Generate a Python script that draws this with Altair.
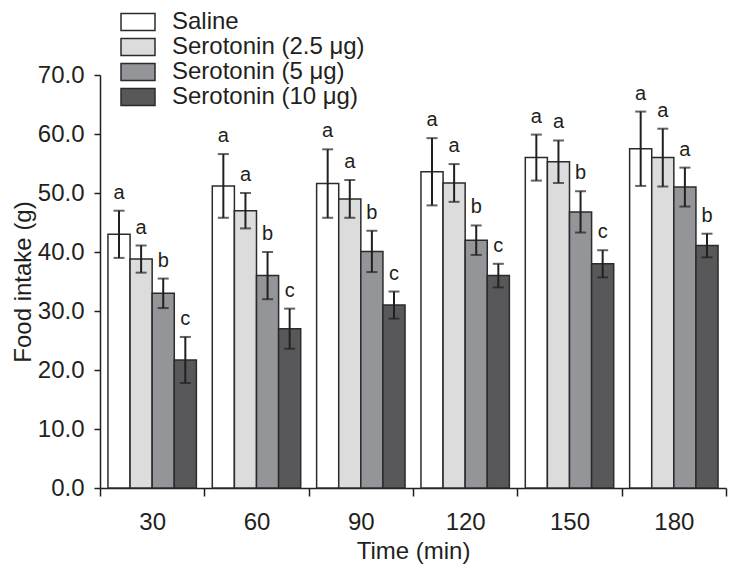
import altair as alt
import pandas as pd

times = ["30", "60", "90", "120", "150", "180"]
groups = ["Saline", "Serotonin (2.5 μg)", "Serotonin (5 μg)", "Serotonin (10 μg)"]
colors = ["#ffffff", "#dcdcdd", "#939598", "#58585a"]

saline = [43.0, 51.2, 51.6, 53.6, 56.0, 57.5]
sero_2_5 = [38.8, 47.0, 49.0, 51.7, 55.3, 56.0]
sero_5 = [33.0, 36.0, 40.1, 42.0, 46.8, 51.0]
sero_10 = [21.7, 27.0, 31.0, 36.0, 38.0, 41.1]

saline_err = [4.0, 5.4, 5.8, 5.7, 3.9, 6.3]
sero_2_5_err = [2.3, 3.0, 3.2, 3.2, 3.6, 4.9]
sero_5_err = [2.5, 4.0, 3.5, 2.5, 3.5, 3.3]
sero_10_err = [3.9, 3.4, 2.3, 2.0, 2.3, 2.0]

saline_sig = ["a", "a", "a", "a", "a", "a"]
sero_2_5_sig = ["a", "a", "a", "a", "a", "a"]
sero_5_sig = ["b", "b", "b", "b", "b", "a"]
sero_10_sig = ["c", "c", "c", "c", "c", "b"]

series = [
    (groups[0], saline, saline_err, saline_sig),
    (groups[1], sero_2_5, sero_2_5_err, sero_2_5_sig),
    (groups[2], sero_5, sero_5_err, sero_5_sig),
    (groups[3], sero_10, sero_10_err, sero_10_sig),
]
rows = []
for g, vals, errs, sigs in series:
    for t, v, e, s in zip(times, vals, errs, sigs):
        rows.append({"time": t, "group": g, "value": v, "err": e, "sig": s})
df = pd.DataFrame(rows)

INK = "#231f20"
FONT = "Liberation Sans"
YTITLE = "Food intake (g)"

x_enc = alt.X(
    "time:N",
    sort=times,
    scale=alt.Scale(paddingInner=0, paddingOuter=0),
    axis=alt.Axis(
        title="Time (min)",
        labelAngle=0,
        tickBand="extent",
        tickSize=8,
        labelPadding=14,
        titlePadding=5,
        labelFontSize=24,
        titleFontSize=24,
    ),
)
xo_enc = alt.XOffset(
    "group:N", sort=groups, scale=alt.Scale(paddingInner=0, paddingOuter=0.36)
)

base = (
    alt.Chart(df)
    .transform_calculate(lo="datum.value - datum.err", hi="datum.value + datum.err")
    .encode(x=x_enc, xOffset=xo_enc)
)

yscale = alt.Scale(domain=[0, 70], nice=False, zero=True)
yaxis = alt.Axis(
    values=[0, 10, 20, 30, 40, 50, 60, 70],
    format=".1f",
    tickSize=6,
    labelPadding=10,
    titlePadding=2,
    labelFontSize=24,
    titleFontSize=24,
)

bars = base.mark_bar(stroke="#2b2b2b", strokeWidth=1.5).encode(
    y=alt.Y("value:Q", scale=yscale, axis=yaxis, title=YTITLE),
    color=alt.Color(
        "group:N",
        sort=groups,
        scale=alt.Scale(domain=groups, range=colors),
        legend=alt.Legend(
            orient="none",
            legendX=26,
            legendY=-65,
            title=None,
            symbolType="M-2,-1H2V1H-2Z",
            symbolSize=289,
            symbolStrokeColor="#2b2b2b",
            symbolStrokeWidth=1.5,
            labelFontSize=24,
            labelOffset=22,
            labelLimit=0,
            rowPadding=1,
            padding=0,
        ),
    ),
)

rules = base.mark_rule(color=INK, strokeWidth=2).encode(
    y=alt.Y("lo:Q", scale=yscale, title=YTITLE), y2="hi:Q"
)
cap_hi = base.mark_tick(color=INK, thickness=2, size=11).encode(
    y=alt.Y("hi:Q", scale=yscale, title=YTITLE)
)
cap_lo = base.mark_tick(color=INK, thickness=2, size=11).encode(
    y=alt.Y("lo:Q", scale=yscale, title=YTITLE)
)
letters = base.mark_text(
    dy=-12, baseline="alphabetic", fontSize=20, font=FONT, color=INK
).encode(y=alt.Y("hi:Q", scale=yscale, title=YTITLE), text="sig:N")

chart = (
    alt.layer(bars, rules, cap_hi, cap_lo, letters)
    .properties(
        width=626,
        height=413,
        autosize=alt.AutoSizeParams(type="none"),
        padding={"left": 92, "top": 67, "right": 2, "bottom": 80},
    )
    .configure_view(stroke=None)
    .configure_axis(
        grid=False,
        domainColor=INK,
        tickColor=INK,
        labelColor=INK,
        titleColor=INK,
        domainWidth=1.5,
        tickWidth=1.5,
        labelFont=FONT,
        titleFont=FONT,
        titleFontWeight="normal",
    )
    .configure_legend(labelFont=FONT, labelColor=INK)
)

chart.save("out.html", embed_options={"renderer": "svg", "actions": False})
